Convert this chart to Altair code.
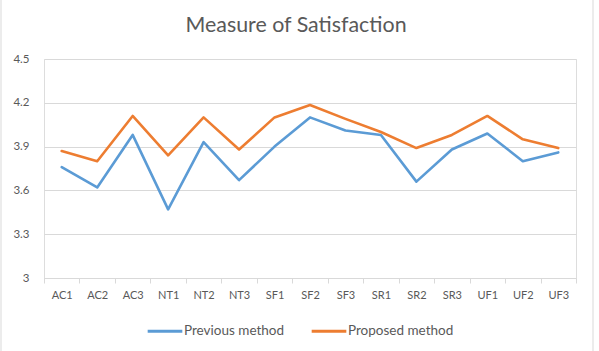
import altair as alt
import pandas as pd

categories = ["AC1", "AC2", "AC3", "NT1", "NT2", "NT3", "SF1", "SF2", "SF3",
              "SR1", "SR2", "SR3", "UF1", "UF2", "UF3"]
previous = [3.76, 3.62, 3.98, 3.47, 3.93, 3.67, 3.90, 4.10, 4.01,
            3.98, 3.66, 3.88, 3.99, 3.80, 3.86]
proposed = [3.87, 3.80, 4.11, 3.84, 4.10, 3.88, 4.10, 4.185, 4.09,
            4.00, 3.89, 3.98, 4.11, 3.95, 3.89]
series = ["Previous method", "Proposed method"]
y_ticks = [3, 3.3, 3.6, 3.9, 4.2, 4.5]

rows = []
for i, c in enumerate(categories):
    rows.append({"cat": c, "series": series[0], "value": previous[i], "order": 0})
    rows.append({"cat": c, "series": series[1], "value": proposed[i], "order": 1})
df = pd.DataFrame(rows)

grey = "#595959"
font = "Lato"

lines = alt.Chart(df).mark_line(strokeWidth=2.6, strokeCap="round", strokeJoin="round").encode(
    x=alt.X("cat:N", sort=categories, title=None,
            scale=alt.Scale(paddingInner=0, paddingOuter=0),
            axis=alt.Axis(labelAngle=0, tickBand="extent", domainColor="#d9d9d9",
                          tickColor="#d9d9d9", tickSize=5, labelColor=grey,
                          labelFont=font, labelFontSize=11, labelPadding=6, grid=False)),
    y=alt.Y("value:Q", title=None,
            scale=alt.Scale(domain=[3, 4.5], nice=False, zero=False),
            axis=alt.Axis(values=y_ticks, domain=False, ticks=False, labelColor=grey,
                          labelFont=font, labelFontSize=11.5, labelPadding=15,
                          gridColor="#d9d9d9", gridWidth=1,
                          labelExpr="datum.value == 3 ? '3' : format(datum.value, '.1f')")),
    color=alt.Color("series:N", sort=series,
                    scale=alt.Scale(domain=series, range=["#5b9bd5", "#ed7d31"]),
                    legend=alt.Legend(title=None, orient="none", direction="horizontal",
                                      legendX=102, legendY=253,
                                      symbolType="stroke", symbolSize=1200,
                                      symbolStrokeWidth=3, labelOffset=0,
                                      columnPadding=20, labelFont=font,
                                      labelFontSize=13.5, labelColor=grey)),
    order="order:Q",
)

border_l = alt.Chart(pd.DataFrame({"side": ["left"]})).mark_rule(
    color="#d9d9d9", strokeWidth=1
).encode(
    x=alt.value(-43), y=alt.value(-59), y2=alt.value(292)
)
border_r = alt.Chart(pd.DataFrame({"side": ["right"]})).mark_rule(
    color="#d9d9d9", strokeWidth=1
).encode(
    x=alt.value(549), y=alt.value(-59), y2=alt.value(292)
)

chart = alt.layer(border_l, border_r, lines).properties(
    width=532, height=219,
    title=alt.TitleParams("Measure of Satisfaction", font=font, fontSize=21.4,
                          fontWeight="normal", color=grey, anchor="middle",
                          baseline="alphabetic", offset=-54, dx=-14),
    padding={"left": 44, "top": 59, "right": 23, "bottom": 73},
    autosize=alt.AutoSizeParams(type="none"),
).configure_view(stroke=None).configure(background="white")

chart.save("out.html", embed_options={"renderer": "svg", "actions": False})
